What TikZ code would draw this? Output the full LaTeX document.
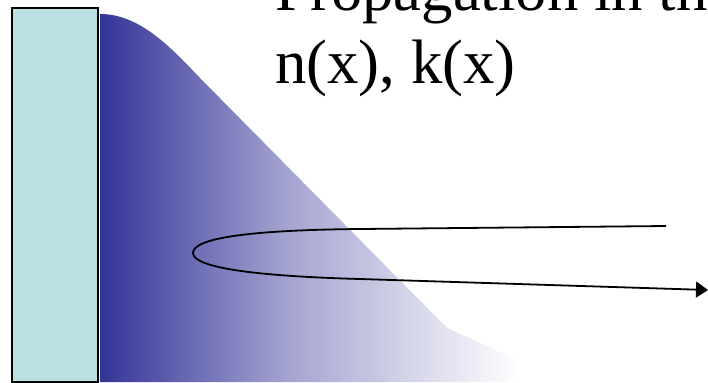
\documentclass[tikz,border=0pt]{standalone}
\usepackage{fontspec}
\setmainfont{Liberation Serif}
\usetikzlibrary{arrows.meta}
\definecolor{wallfill}{HTML}{B9E0E3}
\definecolor{deepblue}{RGB}{52,52,152}
\pgfdeclarehorizontalshading{profshade}{100bp}{color(0bp)=(deepblue); color(25bp)=(deepblue); color(45bp)=(deepblue!45!white); color(70bp)=(white); color(100bp)=(white)}
\tikzset{
  wall/.style={fill=wallfill, draw=black, line width=2bp},
  profile/.style={shading=profshade, draw=none},
  ray/.style={draw=black, line width=1.8bp, -{Triangle[length=12bp,width=16bp]}},
  title/.style={anchor=base west, inner sep=0pt, font=\fontsize{63}{73}\selectfont}
}
\begin{document}
\begin{tikzpicture}[x=1bp,y=-1bp]
\useasboundingbox (0,0) rectangle (708,382);
\clip (0,0) rectangle (708,382);
\fill[white] (0,0) rectangle (708,382);
% gradient profile
\shade[profile] (100,382) -- (100,14) .. controls (138,14) and (168,44) .. (200,78)
  -- (447,328) -- (566,382) -- cycle;
% wall
\node[wall, minimum width=86bp, minimum height=374bp, inner sep=0pt, anchor=north west] (wall) at (11,7) {};
% texts
\node[title] (t1) at (275,10) {Propagation in the};
\node[title] (t2) at (275,83) {n(x), k(x)};
% ray
\coordinate (rin) at (666,226);
\coordinate (rout) at (708,290);
\draw[ray] (rin) -- (360,229) .. controls (250,230) and (193,238) .. (193,253)
  .. controls (193,267) and (250,276) .. (360,279) -- (rout);
\end{tikzpicture}
\end{document}
